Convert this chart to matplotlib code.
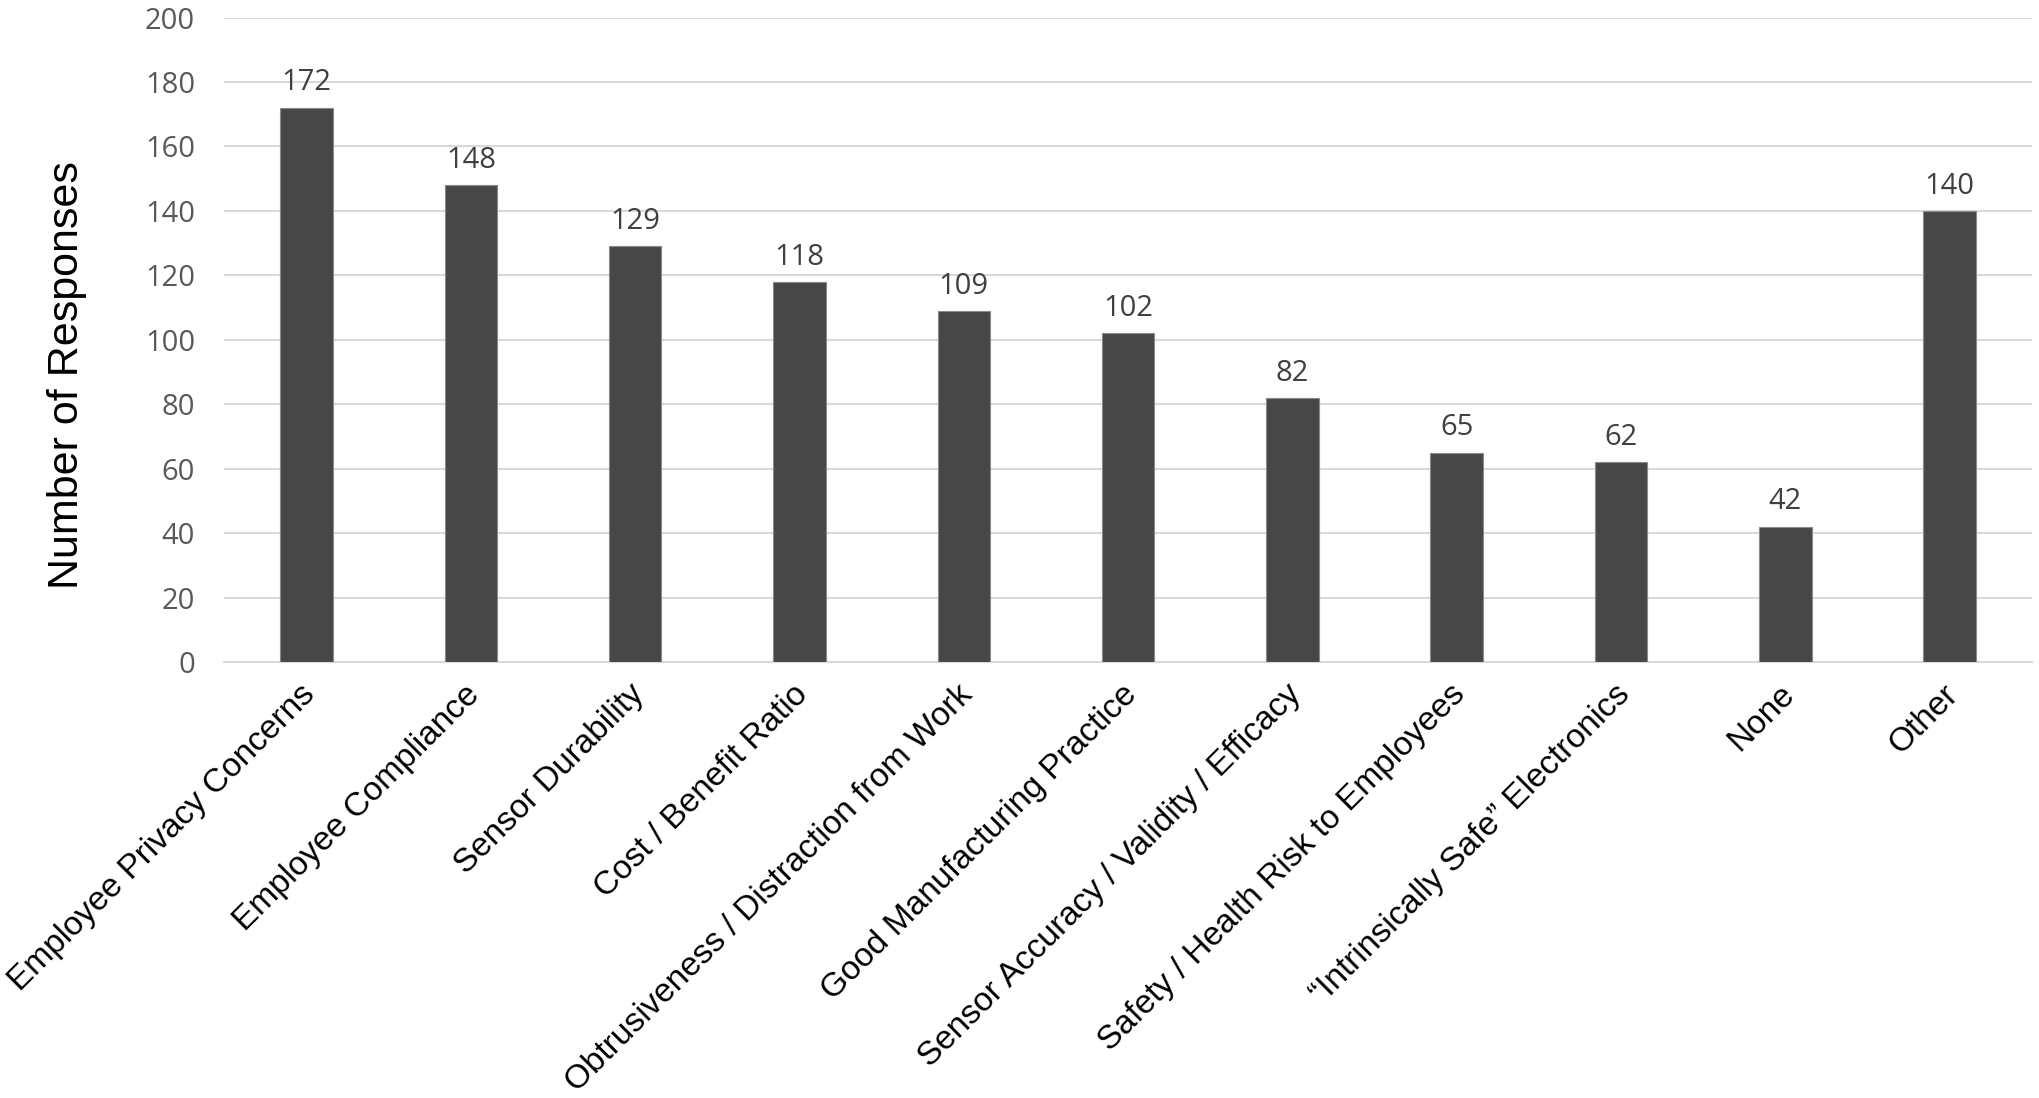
import numpy as np
import matplotlib.pyplot as plt
import matplotlib.transforms as mtransforms

# Data
categories = ["Employee Privacy Concerns", "Employee Compliance", "Sensor Durability",
              "Cost / Benefit Ratio", "Obtrusiveness / Distraction from Work",
              "Good Manufacturing Practice", "Sensor Accuracy / Validity / Efficacy",
              "Safety / Health Risk to Employees", "\u201cIntrinsically Safe\u201d Electronics",
              "None", "Other"]
responses = [172, 148, 129, 118, 109, 102, 82, 65, 62, 42, 140]
y_ticks = [0, 20, 40, 60, 80, 100, 120, 140, 160, 180, 200]

fig = plt.figure(figsize=(20.4, 10.98), dpi=100)
ax = fig.add_axes([0.110, 0.397, 0.886, 0.587])

x = np.arange(len(categories))
ax.bar(x, responses, width=0.32, color="#474747", edgecolor="#8a8a8a",
       linewidth=0.8, zorder=3)

# value labels above bars
for xi, v in zip(x, responses):
    ax.text(xi, v + 3.2, str(v), ha="center", va="bottom", fontsize=21,
            family="Open Sans", color="#404040")

ax.set_xlim(-0.5, len(categories) - 0.5)
ax.set_ylim(0, 200)
ax.set_yticks(y_ticks)
ax.set_yticklabels([str(t) for t in y_ticks], fontsize=21, family="Open Sans",
                   color="#595959")
ax.grid(axis="y", color="#d9d9d9", linewidth=1.5, zorder=0)
ax.tick_params(axis="y", length=0, pad=21)
ax.tick_params(axis="x", length=0, pad=12)

ax.set_xticks(x)
ax.set_xticklabels(categories, rotation=45, ha="right", rotation_mode="anchor",
                   fontsize=24, family="Liberation Sans", color="black")
# nudge rotated labels slightly left
shift = mtransforms.ScaledTranslation(-5 / 72, 0, fig.dpi_scale_trans)
for lbl in ax.get_xticklabels():
    lbl.set_transform(lbl.get_transform() + shift)

for s in ["top", "right", "left"]:
    ax.spines[s].set_visible(False)
ax.spines["bottom"].set_color("#d9d9d9")
ax.spines["bottom"].set_linewidth(1.5)

ax.set_ylabel("Number of Responses", fontsize=31, family="Liberation Sans",
              color="black", va="center")
ax.yaxis.set_label_coords(-0.087, 0.446)

fig.savefig("out.png", dpi=100)
